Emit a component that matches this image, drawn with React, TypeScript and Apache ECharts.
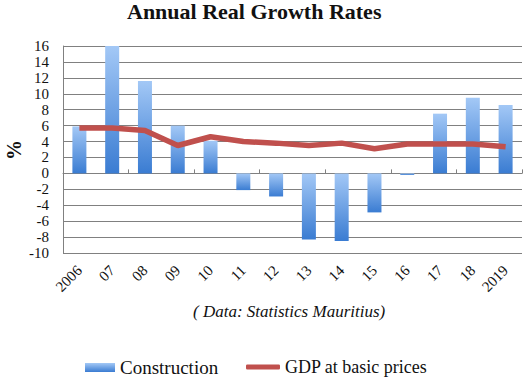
import React, { useEffect, useRef } from "react";
import * as echarts from "echarts";

const categories = ["2006", "07", "08", "09", "10", "11", "12", "13", "14", "15", "16", "17", "18", "2019"];
const construction = [5.9, 16.1, 11.6, 6.0, 4.1, -2.1, -2.9, -8.3, -8.5, -4.9, -0.2, 7.5, 9.5, 8.6];
const gdp = [5.7, 5.7, 5.4, 3.5, 4.6, 4.0, 3.8, 3.5, 3.8, 3.1, 3.7, 3.7, 3.7, 3.35];
const yTicks = { min: -10, max: 16, interval: 2 };

const SERIF = "Liberation Serif";

export default function App() {
  const ref = useRef<HTMLDivElement>(null);
  useEffect(() => {
    if (!ref.current) return;
    const chart = echarts.init(ref.current, undefined, { renderer: "svg" });
    const barGradient = new echarts.graphic.LinearGradient(0, 0, 0, 1, [
      { offset: 0, color: "#a3c8f6" },
      { offset: 1, color: "#3a7cd2" },
    ]);
    chart.setOption({
      animation: false,
      backgroundColor: "#ffffff",
      title: {
        text: "Annual Real Growth Rates",
        left: 127,
        top: 0,
        padding: 0,
        textStyle: { fontFamily: SERIF, fontWeight: "bold", fontSize: 22, color: "#111" },
      },
      grid: { left: 63, right: 5, top: 46, bottom: 135, containLabel: false, outerBoundsMode: "none" },
      legend: [
        {
          data: [{ name: "Construction", icon: "rect" }],
          left: 85,
          top: 358,
          padding: 0,
          itemWidth: 30,
          itemHeight: 9,
          textStyle: { fontFamily: SERIF, fontSize: 19, color: "#111" },
        },
        {
          data: [{ name: "GDP at basic prices", icon: "roundRect" }],
          left: 246,
          top: 358,
          padding: 0,
          itemWidth: 34,
          itemHeight: 5,
          textStyle: { fontFamily: SERIF, fontSize: 18, color: "#111" },
        },
      ],
      xAxis: [
        {
          type: "category",
          data: categories,
          boundaryGap: true,
          axisLine: { onZero: true, lineStyle: { color: "#808080", width: 1 } },
          axisTick: { show: true, inside: true, length: 4, lineStyle: { color: "#808080" } },
          axisLabel: { show: false },
          splitLine: { show: false },
        },
        {
          type: "category",
          data: categories,
          position: "bottom",
          boundaryGap: true,
          axisLine: { show: false, onZero: false },
          axisTick: { show: false },
          axisLabel: {
            rotate: 45,
            interval: 0,
            margin: 15,
            fontFamily: SERIF,
            fontSize: 15,
            color: "#111",
          },
        },
      ],
      yAxis: {
        type: "value",
        min: yTicks.min,
        max: yTicks.max,
        interval: yTicks.interval,
        axisLine: { show: true, lineStyle: { color: "#808080" } },
        axisTick: { show: false },
        axisLabel: { fontFamily: SERIF, fontSize: 15, color: "#111", margin: 14 },
        splitLine: { show: true, lineStyle: { color: "#808080", width: 1 } },
      },
      graphic: [
        {
          type: "text",
          x: 14,
          y: 150,
          rotation: Math.PI / 2,
          style: {
            text: "%",
            fontFamily: SERIF,
            fontWeight: "bold",
            fontSize: 20,
            fill: "#111",
            align: "center",
            verticalAlign: "middle",
          },
        },
        {
          type: "text",
          left: 193,
          top: 303,
          style: {
            text: "( Data: Statistics Mauritius)",
            fontFamily: SERIF,
            fontStyle: "italic",
            fontSize: 17,
            fill: "#111",
          },
        },
      ],
      series: [
        {
          name: "Construction",
          type: "bar",
          xAxisIndex: 0,
          data: construction,
          barWidth: 14,
          itemStyle: { color: barGradient },
        },
        {
          name: "GDP at basic prices",
          type: "line",
          xAxisIndex: 0,
          data: gdp,
          showSymbol: false,
          symbol: "none",
          lineStyle: { color: "#c0504d", width: 5.5 },
          itemStyle: { color: "#c0504d" },
        },
      ],
    });
    return () => chart.dispose();
  }, []);
  return <div ref={ref} style={{ position: "fixed", left: 0, top: 0, width: 527, height: 388 }} />;
}
